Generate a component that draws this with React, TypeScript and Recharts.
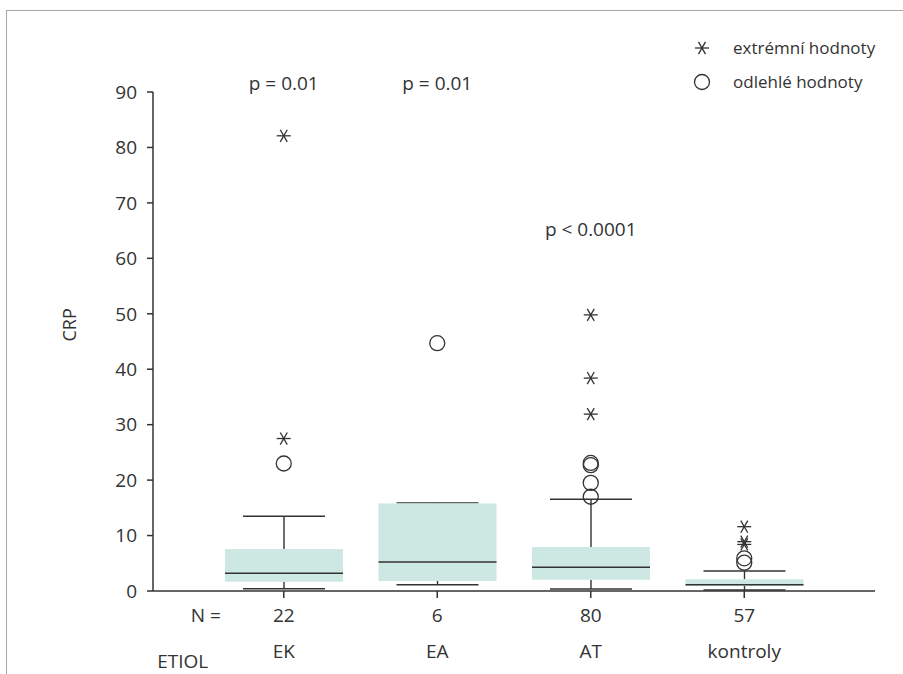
import { ComposedChart, Bar, Scatter, XAxis, YAxis, ReferenceDot } from 'recharts'

const categories = ['EK', 'EA', 'AT', 'kontroly']
const counts = [22, 6, 80, 57]
const mins = [0.41, 1.14, 0.36, 0.18]
const q1s = [1.68, 1.8, 2.04, 0.9]
const medians = [3.19, 5.23, 4.27, 1.14]
const q3s = [7.58, 15.8, 7.94, 2.11]
const maxs = [13.47, 15.9, 16.54, 3.61]

// extreme values (asterisks) and outliers (circles), position = category index + 1
const extremeX = [1, 1, 3, 3, 3, 4, 4, 4]
const extremeY = [82.1, 27.5, 49.8, 38.4, 31.9, 11.6, 8.9, 8.4]
const outlierX = [1, 2, 3, 3, 3, 3, 4, 4]
const outlierY = [23.0, 44.7, 23.1, 22.7, 19.5, 17.0, 5.9, 5.1]

const pLabels = ['p = 0.01', 'p = 0.01', 'p < 0.0001']
const pLabelX = [1, 2, 3]
const pLabelY = [91.6, 91.6, 65.3]

const yTicks = [0, 10, 20, 30, 40, 50, 60, 70, 80, 90]

const INK = '#333'
const FILL = '#cde8e2'
const FONT = '"Open Sans", sans-serif'
const FS = 19

const rows = categories.map((name, i) => ({
  name,
  n: counts[i],
  base: q1s[i],
  lowBox: medians[i] - q1s[i],
  highBox: q3s[i] - medians[i],
  wBase: mins[i],
  wLow: q1s[i] - mins[i],
  wGap: q3s[i] - q1s[i],
  wHigh: maxs[i] - q3s[i],
}))

const extremes = extremeX.map((x, i) => ({ x, y: extremeY[i] }))
const outliers = outlierX.map((x, i) => ({ x, y: outlierY[i] }))

const PAD = { left: 54, right: 54 }

function Star({ cx, cy }: any) {
  const r = 7
  const dx = r * 0.5
  const dy = r * 0.866
  return (
    <g stroke={INK} strokeWidth={1.3}>
      <line x1={cx - r} y1={cy} x2={cx + r} y2={cy} />
      <line x1={cx - dx} y1={cy - dy} x2={cx + dx} y2={cy + dy} />
      <line x1={cx - dx} y1={cy + dy} x2={cx + dx} y2={cy - dy} />
    </g>
  )
}

function Ring({ cx, cy }: any) {
  return <circle cx={cx} cy={cy} r={7.5} fill="none" stroke={INK} strokeWidth={1.3} />
}

function LowWhisker({ x, y, width, height }: any) {
  const mid = x + width / 2
  return (
    <g stroke={INK} strokeWidth={1.4}>
      <line x1={mid} y1={y} x2={mid} y2={y + height} />
      <line x1={x} y1={y + height} x2={x + width} y2={y + height} />
    </g>
  )
}

function HighWhisker({ x, y, width, height }: any) {
  const mid = x + width / 2
  return (
    <g stroke={INK} strokeWidth={1.4}>
      <line x1={mid} y1={y} x2={mid} y2={y + height} />
      <line x1={x} y1={y} x2={x + width} y2={y} />
    </g>
  )
}

function UpperBox({ x, y, width, height }: any) {
  return (
    <g>
      <rect x={x} y={y} width={width} height={height} fill={FILL} />
      <line x1={x} y1={y + height} x2={x + width} y2={y + height} stroke={INK} strokeWidth={1.5} />
    </g>
  )
}

function CategoryTick({ x, y, payload, index }: any) {
  const row = rows[index]
  return (
    <g fill={INK} fontFamily={FONT} fontSize={FS}>
      <text x={x} y={y} dy={22} textAnchor="middle">{row ? row.n : ''}</text>
      <text x={x} y={y} dy={58} textAnchor="middle">{payload.value}</text>
      {index === 0 && (
        <>
          <text x={x - 78} y={y} dy={22} textAnchor="middle">N =</text>
          <text x={x - 101} y={y} dy={68} textAnchor="middle">ETIOL</text>
        </>
      )}
    </g>
  )
}

function PText({ cx, cy, value }: any) {
  return (
    <text x={cx} y={cy} dy={7} textAnchor="middle" fill={INK} fontFamily={FONT} fontSize={FS}>
      {value}
    </text>
  )
}

export default function App() {
  return (
    <div style={{ position: 'absolute', left: 0, top: 0, width: 903, height: 674, background: '#fff' }}>
      <div
        style={{
          position: 'absolute',
          left: 6,
          top: 10,
          right: 0,
          bottom: 0,
          borderTop: '1.5px solid #a8a8a8',
          borderLeft: '1.5px solid #a8a8a8',
        }}
      />
      <ComposedChart
        width={903}
        height={674}
        data={rows}
        margin={{ top: 92, right: 28, bottom: 0, left: 0 }}
        style={{ position: 'absolute', left: 0, top: 0 }}
      >
        <XAxis
          xAxisId="box"
          dataKey="name"
          type="category"
          padding={PAD}
          height={83}
          axisLine={{ stroke: INK, strokeWidth: 1.5 }}
          tickLine={{ stroke: INK, strokeWidth: 1.5 }}
          tickSize={7}
          tick={<CategoryTick />}
          interval={0}
        />
        <XAxis xAxisId="wh" dataKey="name" type="category" padding={PAD} hide />
        <XAxis xAxisId="pts" dataKey="x" type="number" domain={[0.5, 4.5]} padding={PAD} hide />
        <YAxis
          domain={[0, 90]}
          ticks={yTicks}
          width={153}
          axisLine={{ stroke: INK, strokeWidth: 1.5 }}
          tickLine={{ stroke: INK, strokeWidth: 1.5 }}
          tickSize={6}
          tickMargin={10}
          tick={{ fill: INK, fontFamily: FONT, fontSize: FS }}
          allowDataOverflow
          label={{
            value: 'CRP',
            angle: -90,
            position: 'insideLeft',
            offset: 70,
            fill: INK,
            fontFamily: FONT,
            fontSize: 18,
          }}
        />
        <Bar xAxisId="wh" dataKey="wBase" stackId="w" fill="transparent" barSize={82} isAnimationActive={false} />
        <Bar xAxisId="wh" dataKey="wLow" stackId="w" barSize={82} shape={<LowWhisker />} isAnimationActive={false} />
        <Bar xAxisId="wh" dataKey="wGap" stackId="w" fill="transparent" barSize={82} isAnimationActive={false} />
        <Bar xAxisId="wh" dataKey="wHigh" stackId="w" barSize={82} shape={<HighWhisker />} isAnimationActive={false} />
        <Bar xAxisId="box" dataKey="base" stackId="b" fill="transparent" barSize={118} isAnimationActive={false} />
        <Bar xAxisId="box" dataKey="lowBox" stackId="b" fill={FILL} barSize={118} isAnimationActive={false} />
        <Bar xAxisId="box" dataKey="highBox" stackId="b" barSize={118} shape={<UpperBox />} isAnimationActive={false} />
        <Scatter xAxisId="pts" data={outliers} dataKey="y" shape={<Ring />} isAnimationActive={false} />
        <Scatter xAxisId="pts" data={extremes} dataKey="y" shape={<Star />} isAnimationActive={false} />
        {pLabels.map((text, i) => (
          <ReferenceDot
            key={i}
            xAxisId="pts"
            x={pLabelX[i]}
            y={pLabelY[i]}
            r={0}
            ifOverflow="visible"
            shape={(p: any) => <PText {...p} value={text} />}
          />
        ))}
      </ComposedChart>
      <div
        style={{
          position: 'absolute',
          left: 692,
          top: 31,
          fontFamily: FONT,
          fontSize: 17,
          color: INK,
          lineHeight: '34px',
        }}
      >
        <div style={{ display: 'flex', alignItems: 'center' }}>
          <svg width={20} height={20} style={{ marginRight: 21 }}>
            <Star cx={10} cy={10} />
          </svg>
          extrémní hodnoty
        </div>
        <div style={{ display: 'flex', alignItems: 'center' }}>
          <svg width={20} height={20} style={{ marginRight: 21 }}>
            <Ring cx={10} cy={10} />
          </svg>
          odlehlé hodnoty
        </div>
      </div>
    </div>
  )
}
